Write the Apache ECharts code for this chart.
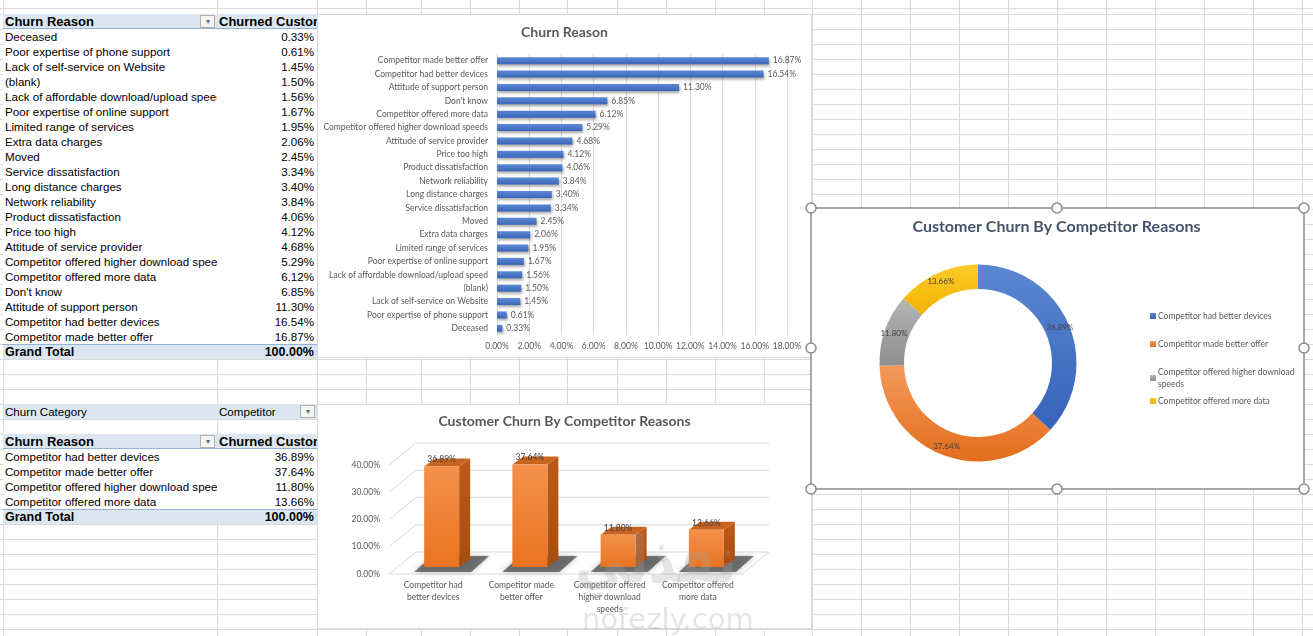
<!DOCTYPE html>
<html>
<head>
<meta charset="utf-8">
<title>Churn Reason</title>
<script src="https://cdn.jsdelivr.net/npm/echarts@6/dist/echarts.min.js"></script>
<style>
  body { margin: 0; width: 1313px; height: 636px; overflow: hidden; background: #fff; position: relative;
         font-family: "Liberation Sans", Arial, sans-serif; }
  #sheet { position: absolute; left: 0; top: 0; width: 1313px; height: 636px;
           background-image: repeating-linear-gradient(to bottom, #dadada 0, #dadada 1px, transparent 1px, transparent 15px);
           background-position: 0 14px; }
  .vline { position: absolute; top: 0; width: 1px; height: 636px; background: #dadada; }
  .row { position: absolute; left: 3px; width: 314px; height: 15px; background: #fff; font-size: 11.6px; line-height: 16px; color: #000; }
  .row .lab { position: absolute; left: 2px; top: 0; width: 212px; overflow: hidden; white-space: nowrap; }
  .row .val { position: absolute; right: 3px; top: 0; }
  .row .hd2 { position: absolute; left: 216px; top: 0; width: 98px; overflow: hidden; white-space: nowrap; }
  .row.head, .row.total, .row.filter { background: #dce6f1; }
  .row.head { font-weight: bold; font-size: 13px; border-bottom: 1px solid #95b3d7; height: 14px; line-height: 15px; }
  .row.total { font-weight: bold; font-size: 12.5px; border-top: 1px solid #95b3d7; height: 14px; line-height: 15px; }
  .btn { position: absolute; top: 1px; width: 13px; height: 11px; border: 1px solid #b0b0b0; background: #f4f4f4;
         font-size: 8px; line-height: 11px; text-align: center; color: #666; font-weight: normal; }
  .chart { position: absolute; background: #fff; border: 1px solid #d9d9d9; box-sizing: border-box; }
  .wm { position: absolute; color: rgba(160,160,160,0.28); font-family: "DejaVu Sans", sans-serif; font-weight: bold;
        white-space: nowrap; transform-origin: left top; }
</style>
</head>
<body>
<div id="sheet"></div>
<div id="tables"></div>
<div id="c1" class="chart" style="left:317px;top:14px;width:495px;height:344px;"></div>
<div id="c2" class="chart" style="left:317px;top:404px;width:495px;height:225px;"></div>
<div id="c3" style="position:absolute;left:800px;top:198px;width:513px;height:302px;"></div>
<div class="wm" style="left:575px;top:522px;font-size:46px;transform:scale(1.15,1.4);">نفذلي</div>
<div class="wm" style="left:582px;top:602px;font-size:29px;font-weight:normal;">nofezly.com</div>
<script>
// ---- data ----
const reasons = ['Deceased', 'Poor expertise of phone support', 'Lack of self-service on Website', '(blank)',
  'Lack of affordable download/upload speed', 'Poor expertise of online support', 'Limited range of services',
  'Extra data charges', 'Moved', 'Service dissatisfaction', 'Long distance charges', 'Network reliability',
  'Product dissatisfaction', 'Price too high', 'Attitude of service provider',
  'Competitor offered higher download speeds', 'Competitor offered more data', "Don't know",
  'Attitude of support person', 'Competitor had better devices', 'Competitor made better offer'];
const reasonShare = [0.33, 0.61, 1.45, 1.50, 1.56, 1.67, 1.95, 2.06, 2.45, 3.34, 3.40, 3.84, 4.06, 4.12, 4.68,
  5.29, 6.12, 6.85, 11.30, 16.54, 16.87];

const competitorReasons = ['Competitor had better devices', 'Competitor made better offer',
  'Competitor offered higher download speeds', 'Competitor offered more data'];
const competitorShare = [36.89, 37.64, 11.80, 13.66];
const competitorAxisLabels = ['Competitor had\nbetter devices', 'Competitor made\nbetter offer',
  'Competitor offered\nhigher download\nspeeds', 'Competitor offered\nmore data'];
const competitorLegend = ['Competitor had better devices', 'Competitor made better offer',
  'Competitor offered higher download\nspeeds', 'Competitor offered more data'];

const grandTotal = 100;
const reasonTicks = { min: 0, max: 18, interval: 2 };
const competitorTicks = [0, 10, 20, 30, 40];

const pct = v => v.toFixed(2) + '%';
const chartFont = 'Lato, "Open Sans", sans-serif';

// ---- worksheet grid ----
const colLines = [3, 217, 317, 366, 421, 470, 519, 567, 617, 666, 715, 764, 812, 861, 910, 959, 1008, 1057,
  1106, 1155, 1204, 1253, 1302];
const sheet = document.getElementById('sheet');
colLines.forEach(x => {
  const d = document.createElement('div');
  d.className = 'vline';
  d.style.left = x + 'px';
  sheet.appendChild(d);
});

// ---- pivot tables ----
const tables = document.getElementById('tables');
function addRow(top, cls, html) {
  const d = document.createElement('div');
  d.className = 'row ' + cls;
  d.style.top = top + 'px';
  d.innerHTML = html;
  tables.appendChild(d);
}
function headRow(top) {
  addRow(top, 'head', '<span class="lab">Churn Reason</span><span class="btn" style="left:197px">&#9662;</span>' +
    '<span class="hd2">Churned Customers</span>');
}
headRow(14);
reasons.forEach((r, i) => {
  addRow(29 + i * 15, '', '<span class="lab">' + r + '</span><span class="val">' + pct(reasonShare[i]) + '</span>');
});
addRow(29 + reasons.length * 15, 'total', '<span class="lab">Grand Total</span><span class="val">' + pct(grandTotal) + '</span>');

addRow(404, 'filter', '<span class="lab">Churn Category</span><span class="hd2">Competitor</span>' +
  '<span class="btn" style="left:297px">&#9662;</span>');
headRow(434);
competitorReasons.forEach((r, i) => {
  addRow(449 + i * 15, '', '<span class="lab">' + r + '</span><span class="val">' + pct(competitorShare[i]) + '</span>');
});
addRow(449 + competitorReasons.length * 15, 'total', '<span class="lab">Grand Total</span><span class="val">' + pct(grandTotal) + '</span>');

// ---- chart 1: churn reason bars ----
const c1 = echarts.init(document.getElementById('c1'));
c1.setOption({
  animation: false,
  title: {
    text: 'Churn Reason', left: 'center', top: 5,
    textStyle: { fontFamily: chartFont, fontSize: 14, fontWeight: 'bold', color: '#595959' }
  },
  grid: { left: 179, right: 24, top: 39, bottom: 22 },
  xAxis: {
    type: 'value', min: reasonTicks.min, max: reasonTicks.max, interval: reasonTicks.interval,
    axisLine: { show: false }, axisTick: { show: false },
    splitLine: { lineStyle: { color: '#d9d9d9' } },
    axisLabel: { formatter: v => pct(v), fontFamily: chartFont, fontSize: 8.5, color: '#595959', margin: 7 }
  },
  yAxis: {
    type: 'category', data: reasons,
    axisLine: { show: false }, axisTick: { show: false },
    axisLabel: { fontFamily: chartFont, fontSize: 8.5, color: '#595959', margin: 9 }
  },
  series: [{
    type: 'bar', data: reasonShare, barWidth: 7,
    itemStyle: {
      color: new echarts.graphic.LinearGradient(0, 0, 0, 1, [
        { offset: 0, color: '#5b8ad6' }, { offset: 1, color: '#3a65b6' }]),
      shadowColor: 'rgba(0,0,0,0.35)', shadowBlur: 3, shadowOffsetX: 1, shadowOffsetY: 2
    },
    label: {
      show: true, position: 'right', distance: 4, formatter: p => pct(p.value),
      fontFamily: chartFont, fontSize: 8.5, color: '#595959'
    }
  }]
});

// ---- chart 2: competitor reasons, 3D columns ----
const DX = 27, DY = -22;       // depth of the wall
const BAR_W = 35, BX = 11, BY = -8, SX = 8.5, SY = -7;

function renderWall(params, api) {
  const v = api.value(1);
  const p = api.coord([0, v]);
  const bw = api.size([1, 0])[0];
  const xl = p[0] - bw / 2;
  const xr = xl + bw * competitorReasons.length;
  const line = { stroke: '#d9d9d9', lineWidth: 1, fill: null };
  const children = [{
    type: 'polyline',
    shape: { points: [[xl, p[1]], [xl + DX, p[1] + DY], [xr + DX, p[1] + DY]] },
    style: line
  }];
  if (v === 0) {
    children.push({ type: 'polyline', shape: { points: [[xl, p[1]], [xr, p[1]], [xr + DX, p[1] + DY]] }, style: line });
  }
  return { type: 'group', children };
}

function renderColumn(params, api) {
  const i = api.value(0), v = api.value(1);
  const base = api.coord([i, 0]);
  const top = api.coord([i, v]);
  const cx = base[0] + SX;
  const yb = base[1] + SY, yt = top[1] + SY;
  const x0 = cx - BAR_W / 2, x1 = cx + BAR_W / 2;
  return {
    type: 'group',
    children: [
      {
        type: 'polygon',
        shape: { points: [[x0 - 10, yb + 5], [x1 + 12, yb + 5], [x1 + 30, yb - 11], [x0 + 8, yb - 11]] },
        style: { fill: 'rgba(70,70,70,0.7)', shadowBlur: 5, shadowColor: 'rgba(0,0,0,0.4)' }
      },
      {
        type: 'polygon',
        shape: { points: [[x1, yt], [x1 + BX, yt + BY], [x1 + BX, yb + BY], [x1, yb]] },
        style: { fill: new echarts.graphic.LinearGradient(0, 0, 0, 1, [
          { offset: 0, color: '#bd5a17' }, { offset: 1, color: '#a84d10' }]) }
      },
      {
        type: 'polygon',
        shape: { points: [[x0, yt], [x0 + BX, yt + BY], [x1 + BX, yt + BY], [x1, yt]] },
        style: { fill: '#c8641f' }
      },
      {
        type: 'rect',
        shape: { x: x0, y: yt, width: BAR_W, height: yb - yt },
        style: { fill: new echarts.graphic.LinearGradient(0, 0, 0, 1, [
          { offset: 0, color: '#f4914b' }, { offset: 1, color: '#ea7320' }]) }
      },
      {
        type: 'text',
        style: {
          text: pct(v), x: cx, y: yt - 7, align: 'center', verticalAlign: 'middle',
          fontFamily: chartFont, fontSize: 8.5, fill: '#404040'
        }
      }
    ]
  };
}

const c2 = echarts.init(document.getElementById('c2'));
c2.setOption({
  animation: false,
  title: {
    text: 'Customer Churn By Competitor Reasons', left: 'center', top: 4,
    textStyle: { fontFamily: chartFont, fontSize: 14, fontWeight: 'bold', color: '#595959' }
  },
  grid: { left: 71, right: 69, top: 60, bottom: 54 },
  xAxis: {
    type: 'category', data: competitorAxisLabels,
    axisLine: { show: false }, axisTick: { show: false },
    axisLabel: { fontFamily: chartFont, fontSize: 8.5, lineHeight: 12, color: '#595959', margin: 5, interval: 0 }
  },
  yAxis: {
    type: 'value', min: competitorTicks[0], max: competitorTicks[competitorTicks.length - 1], interval: 10,
    splitLine: { show: false }, axisLine: { show: false }, axisTick: { show: false },
    axisLabel: { formatter: v => pct(v), fontFamily: chartFont, fontSize: 8.5, color: '#595959', margin: 9 }
  },
  series: [
    { type: 'custom', renderItem: renderWall, data: competitorTicks.map(t => [0, t]), clip: false, z: 1, silent: true },
    { type: 'custom', renderItem: renderColumn, data: competitorShare.map((v, i) => [i, v]), clip: false, z: 2 }
  ]
});

// ---- chart 3: doughnut ----
const donutColors = [
  ['#5b87d2', '#3662ba'],
  ['#f39a5c', '#e46d1c'],
  ['#b5b5b5', '#8e8e8e'],
  ['#ffca2a', '#f0b300']
];
const handles = [[11, 10], [257, 10], [504, 10], [11, 150], [504, 150], [11, 291], [257, 291], [504, 291]];
const legendTops = [107, 135, 163, 192];

const c3 = echarts.init(document.getElementById('c3'));
c3.setOption({
  animation: false,
  title: {
    text: 'Customer Churn By Competitor Reasons', left: 'center', top: 16,
    textStyle: { fontFamily: chartFont, fontSize: 16, fontWeight: 'bold', color: '#44546a' }
  },
  graphic: [
    { type: 'rect', z: -10, shape: { x: 11, y: 10, width: 493, height: 281 },
      style: { fill: '#fff', stroke: '#8c8c8c', lineWidth: 1.5 } }
  ].concat(handles.map(h => ({
    type: 'circle', z: 100, shape: { cx: h[0], cy: h[1], r: 5 },
    style: { fill: '#fff', stroke: '#8c8c8c', lineWidth: 1.5 }
  }))),
  legend: competitorReasons.map((name, i) => ({
    data: [name], orient: 'vertical', left: 345, top: legendTops[i],
    icon: 'rect', itemWidth: 6, itemHeight: 6,
    formatter: () => competitorLegend[i],
    textStyle: { fontFamily: chartFont, fontSize: 8.5, lineHeight: 12, color: '#595959', padding: [0, 0, 0, -3] }
  })),
  series: [{
    type: 'pie', radius: [74, 98.5], center: [178, 165], startAngle: 90, clockwise: true,
    label: { show: true, position: 'inside', formatter: p => pct(p.value),
      fontFamily: chartFont, fontSize: 8, color: '#404040' },
    labelLine: { show: false },
    data: competitorReasons.map((name, i) => ({
      name, value: competitorShare[i],
      itemStyle: { color: new echarts.graphic.LinearGradient(0, 0, 0, 1, [
        { offset: 0, color: donutColors[i][0] }, { offset: 1, color: donutColors[i][1] }]) }
    }))
  }]
});
</script>
</body>
</html>
